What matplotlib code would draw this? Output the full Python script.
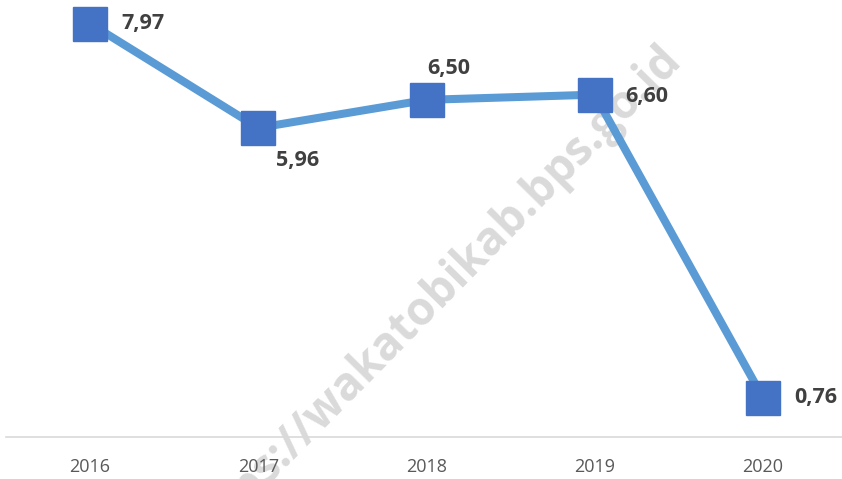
import matplotlib.pyplot as plt
import numpy as np

years = ['2016', '2017', '2018', '2019', '2020']
values = [7.97, 5.96, 6.50, 6.60, 0.76]
labels = ['7,97', '5,96', '6,50', '6,60', '0,76']
# label offsets in pixels (dx, dy) and alignment
offsets = [(31, 0, 'left'), (18, -33, 'left'), (22, 31, 'center'), (31, -2, 'left'), (31, 0, 'left')]

fig = plt.figure(figsize=(8.42, 4.79), dpi=100)
ax = fig.add_axes([6 / 842, 42 / 479, 841 / 842, 435 / 479])

x = np.arange(len(years))

# watermark (behind the line)
ax.text(674 / 842, 1 - 52 / 479, 'https://wakatobikab.bps.go.id', rotation=45.5,
        rotation_mode='anchor', transform=fig.transFigure,
        ha='right', va='center', fontsize=33, fontweight='bold',
        family='Open Sans', color='#dadada', zorder=0, clip_on=False)

ax.plot(x, values, color='#5b9bd5', linewidth=5.8, marker='s', markersize=24,
        markerfacecolor='#4472c4', markeredgecolor='#4472c4', zorder=3)

for xi, v, lab, (dx, dy, ha) in zip(x, values, labels, offsets):
    ax.annotate(lab, xy=(xi, v), xytext=(dx * 0.72, dy * 0.72), textcoords='offset points',
                ha=ha, va='center', fontsize=15.5, fontweight='bold', family='Open Sans',
                color='#404040', zorder=4)

ax.set_xlim(-0.5, len(years) - 0.5)
ax.set_ylim(0, 435 / 51.87)
ax.set_xticks(x)
ax.set_xticklabels(years, fontsize=13, color='#595959', family='Open Sans')
ax.tick_params(axis='x', length=0, pad=15)
ax.set_yticks([])
for s in ['top', 'right', 'left']:
    ax.spines[s].set_visible(False)
ax.spines['bottom'].set_color('#d9d9d9')
ax.spines['bottom'].set_linewidth(1.2)
ax.patch.set_alpha(0)

plt.savefig('out.png', dpi=100)
